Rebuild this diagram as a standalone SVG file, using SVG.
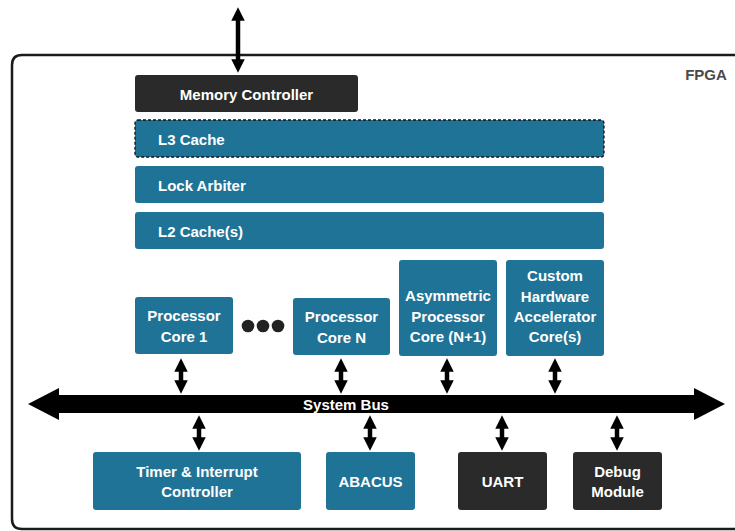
<svg xmlns="http://www.w3.org/2000/svg" width="735" height="531" viewBox="0 0 735 531">
  <defs>
    <style>
      .blue { fill: #1f7396; }
      .dark { fill: #2a2a2a; }
      .lbl { font-family: "Liberation Sans", Arial, sans-serif; font-weight: bold; font-size: 15px; fill: #ffffff; text-anchor: middle; }
      .lbl-l { font-family: "Liberation Sans", Arial, sans-serif; font-weight: bold; font-size: 15px; fill: #ffffff; }
      .link { stroke: #000000; stroke-width: 4.5; fill: none; marker-start: url(#head); marker-end: url(#head); }
    </style>
    <marker id="head" viewBox="0 0 10 10" refX="2" refY="5" markerWidth="3" markerHeight="3" orient="auto-start-reverse" markerUnits="strokeWidth">
      <path d="M0,0 L10,5 L0,10 Z" fill="#000000"/>
    </marker>
  </defs>

  <!-- FPGA frame -->
  <g id="fpga">
    <path d="M740,55 H22 Q12,55 12,65 V519 Q12,529 22,529 H740" fill="none" stroke="#1a1a1a" stroke-width="2.5"/>
    <text x="706" y="80" font-family="Liberation Sans, Arial, sans-serif" font-weight="bold" font-size="15" fill="#4a4a4a" text-anchor="middle">FPGA</text>
  </g>

  <!-- connectors -->
  <g id="connectors">
    <line class="link" x1="238" y1="18" x2="238" y2="62"/>
    <line class="link" x1="181" y1="369" x2="181" y2="383"/>
    <line class="link" x1="341" y1="369" x2="341" y2="383"/>
    <line class="link" x1="447" y1="369" x2="447" y2="383"/>
    <line class="link" x1="555" y1="369" x2="555" y2="383"/>
    <line class="link" x1="199" y1="426" x2="199" y2="440"/>
    <line class="link" x1="370" y1="426" x2="370" y2="440"/>
    <line class="link" x1="502" y1="426" x2="502" y2="440"/>
    <line class="link" x1="617" y1="426" x2="617" y2="440"/>
  </g>

  <!-- system bus -->
  <g id="system-bus">
    <path d="M28,404 L59,388 L59,395 L694,395 L694,388 L725,404 L694,420 L694,413 L59,413 L59,420 Z" fill="#000000"/>
    <text x="346" y="409.5" class="lbl">System Bus</text>
  </g>

  <g id="memory-controller">
    <rect x="135" y="75" width="223" height="37" rx="3" class="dark"/>
    <text x="246.5" y="99.5" class="lbl">Memory Controller</text>
  </g>

  <g id="l3-cache">
    <rect x="135" y="120" width="469" height="37" rx="3" class="blue" stroke="#111111" stroke-width="1.3" stroke-dasharray="3,2"/>
    <text x="158" y="144.5" class="lbl-l">L3 Cache</text>
  </g>

  <g id="lock-arbiter">
    <rect x="135" y="166" width="469" height="37" rx="3" class="blue"/>
    <text x="158" y="190.5" class="lbl-l">Lock Arbiter</text>
  </g>

  <g id="l2-cache">
    <rect x="135" y="212" width="469" height="37" rx="3" class="blue"/>
    <text x="158" y="236.5" class="lbl-l">L2 Cache(s)</text>
  </g>

  <g id="core-1">
    <rect x="135" y="297" width="98" height="57" rx="3" class="blue"/>
    <text x="184" y="321" class="lbl">Processor</text>
    <text x="184" y="342" class="lbl">Core 1</text>
  </g>

  <g id="ellipsis">
    <circle cx="248" cy="326" r="6.3" fill="#222222"/>
    <circle cx="263" cy="326" r="6.3" fill="#222222"/>
    <circle cx="278" cy="326" r="6.3" fill="#222222"/>
  </g>

  <g id="core-n">
    <rect x="293" y="298" width="97" height="57" rx="3" class="blue"/>
    <text x="341.5" y="322" class="lbl">Processor</text>
    <text x="341.5" y="343" class="lbl">Core N</text>
  </g>

  <g id="core-asym">
    <rect x="399" y="260" width="98" height="96" rx="3" class="blue"/>
    <text x="448" y="301" class="lbl">Asymmetric</text>
    <text x="448" y="321.5" class="lbl">Processor</text>
    <text x="448" y="342" class="lbl">Core (N+1)</text>
  </g>

  <g id="accelerator">
    <rect x="506" y="260" width="98" height="96" rx="3" class="blue"/>
    <text x="555" y="281" class="lbl">Custom</text>
    <text x="555" y="301.5" class="lbl">Hardware</text>
    <text x="555" y="322" class="lbl">Accelerator</text>
    <text x="555" y="342" class="lbl">Core(s)</text>
  </g>

  <g id="timer-interrupt">
    <rect x="93" y="452" width="208" height="58" rx="3" class="blue"/>
    <text x="197" y="476.5" class="lbl">Timer &amp; Interrupt</text>
    <text x="197" y="496.5" class="lbl">Controller</text>
  </g>

  <g id="abacus">
    <rect x="326" y="452" width="89" height="58" rx="3" class="blue"/>
    <text x="370.5" y="486.5" class="lbl">ABACUS</text>
  </g>

  <g id="uart">
    <rect x="458" y="452" width="89" height="58" rx="3" class="dark"/>
    <text x="502.5" y="486.5" class="lbl">UART</text>
  </g>

  <g id="debug">
    <rect x="573" y="452" width="89" height="58" rx="3" class="dark"/>
    <text x="617.5" y="476.5" class="lbl">Debug</text>
    <text x="617.5" y="496.5" class="lbl">Module</text>
  </g>
</svg>
